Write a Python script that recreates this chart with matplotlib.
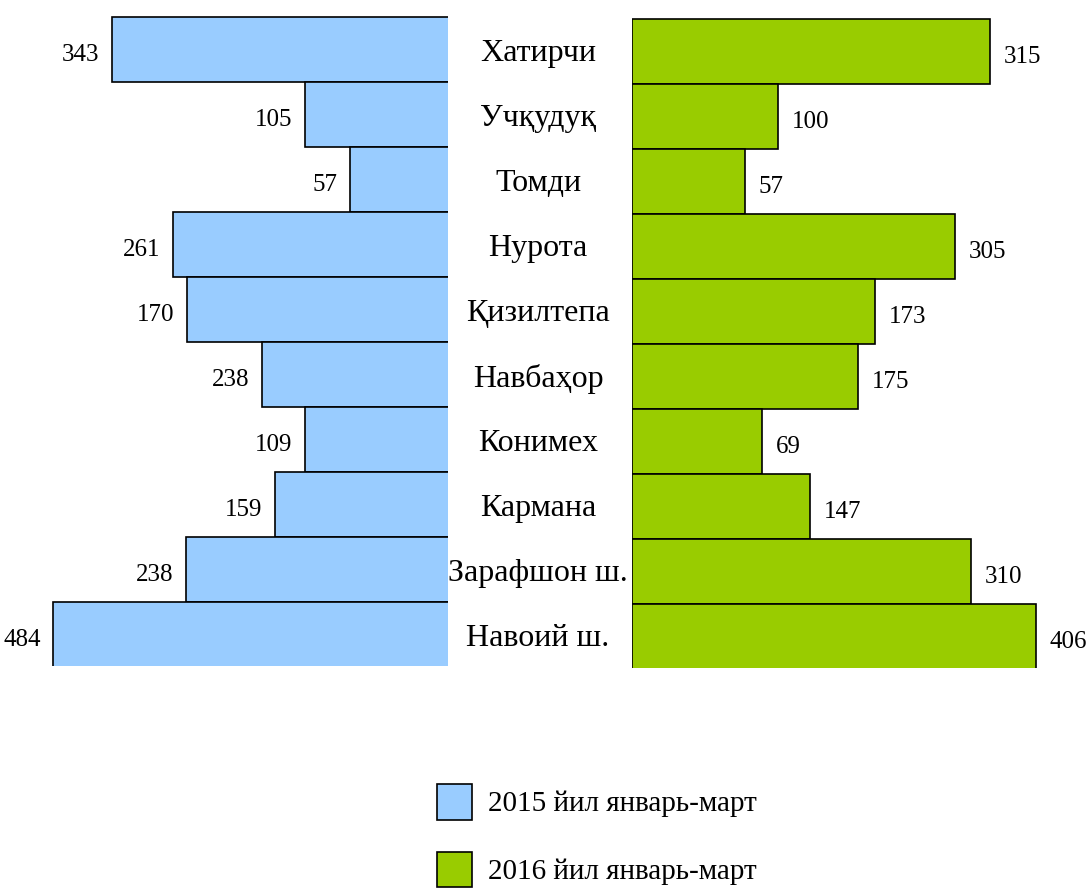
import numpy as np
import matplotlib.pyplot as plt
from matplotlib import transforms

plt.rcParams['font.family'] = ['Liberation Serif', 'DejaVu Serif']

districts = ['Хатирчи', 'Учқудуқ', 'Томди', 'Нурота', 'Қизилтепа',
             'Навбаҳор', 'Конимех', 'Кармана', 'Зарафшон ш.', 'Навоий ш.']

# values printed next to the bars
labels_2015 = [343, 105, 57, 261, 170, 238, 109, 159, 238, 484]
labels_2016 = [315, 100, 57, 305, 173, 175, 69, 147, 310, 406]

# bar lengths as drawn in the picture (they do not follow the printed values)
bars_2015 = [338, 145, 100, 277, 263, 188, 145, 175, 264, 397]
bars_2016 = [358, 146, 113, 323, 243, 226, 130, 178, 339, 404]

legend_labels = ['2015 йил январь-март', '2016 йил январь-март']
blue = '#99ccff'
green = '#99cc00'

W, H = 1091, 888
fig = plt.figure(figsize=(W / 100, H / 100), dpi=100)

y = np.arange(len(districts))

# left panel: 0..448 px, bars grow to the left
ax_l = fig.add_axes([0, 1 - 666 / H, 448 / W, 650 / H])
b1 = ax_l.barh(y, bars_2015, height=1.0, color=blue, edgecolor='black', linewidth=1.2)
ax_l.set_xlim(450, 2)
ax_l.set_ylim(9.48, -0.52)
anns_l = ax_l.bar_label(b1, labels=[str(v) for v in labels_2015], padding=9, fontsize=18)

# right panel: 632..1091 px
ax_r = fig.add_axes([632 / W, 1 - 668 / H, (W - 632) / W, 650 / H])
b2 = ax_r.barh(y, bars_2016, height=1.0, color=green, edgecolor='black', linewidth=1.2)
ax_r.set_xlim(0, W - 632)
ax_r.set_ylim(9.48, -0.52)
anns_r = ax_r.bar_label(b2, labels=[str(v) for v in labels_2016], padding=10, fontsize=18)

# numbers sit a little below the bar centres
for t in list(anns_l) + list(anns_r):
    t.xyann = (t.xyann[0], t.xyann[1] - 3.5)

for ax in (ax_l, ax_r):
    ax.axis('off')

# district names between the panels
trans = transforms.blended_transform_factory(fig.transFigure, ax_l.transData)
trans = transforms.offset_copy(trans, fig=fig, y=-4, units='dots')
for i, name in enumerate(districts):
    ax_l.text(538 / W, i, name, transform=trans, ha='center', va='center',
              fontsize=23, clip_on=False)

fig.legend([b1, b2], legend_labels, loc='upper left',
           bbox_to_anchor=(437 / W, 1 - 784 / H), frameon=False,
           fontsize=21, handlelength=1.2, handleheight=1.5,
           handletextpad=0.55, labelspacing=1.1, borderpad=0, borderaxespad=0)

fig.savefig('out.png', dpi=100)
